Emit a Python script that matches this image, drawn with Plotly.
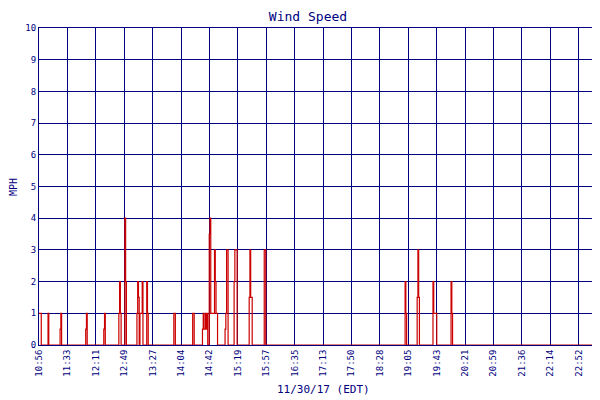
import plotly.graph_objects as go

# minutes after 10:56 and wind speed (MPH), step series
minutes = [0, 1, 3, 12, 13, 14, 28, 29, 30, 62, 63, 64, 86, 87, 88,
           106, 107, 108, 109, 114, 115, 116, 130, 131, 132, 133, 134, 137, 138, 139,
           143, 144, 145, 179, 181, 204, 206, 217, 218, 219, 220, 221, 222, 223, 224,
           226, 227, 228, 232, 233, 234, 235, 237, 247, 248, 249, 251, 259, 260, 262, 263,
           279, 280, 281, 283, 299, 301, 486, 487, 488, 489, 502, 503, 504, 505,
           523, 524, 525, 528, 547, 548, 549, 754]
speed = [1, 1, 0, 1, 0, 0, 0.5, 1, 0, 0.5, 1, 0, 0.5, 1, 0,
         1, 2, 1, 0, 4, 2, 0, 1, 2, 1.5, 0, 1, 2, 0, 0,
         2, 1, 0, 1, 0, 1, 0, 0.5, 1, 0.5, 0.5, 1, 0.5, 1, 0,
         3.5, 4, 1, 1, 3, 2, 1, 0, 0.5, 1, 3, 0, 2, 3, 3, 0,
         1.5, 3, 1.5, 0, 3, 0, 2, 1, 0, 0, 1.5, 3, 1.5, 0,
         2, 1, 1, 0, 2, 1, 0, 0]

tick_labels = ["10:56", "11:33", "12:11", "12:49", "13:27", "14:04", "14:42", "15:19",
               "15:57", "16:35", "17:13", "17:50", "18:28", "19:05", "19:43", "20:21",
               "20:59", "21:36", "22:14", "22:52", "23:30"]
tick_vals = [i * 754 / 20 for i in range(21)]

navy = "#000080"
fig = go.Figure()
fig.add_trace(go.Scatter(x=minutes, y=speed, mode="lines", line=dict(color="#cc0000", width=1.2, shape="hv"),
                         name="Wind Speed"))

fig.update_layout(
    width=600, height=400, margin=dict(l=31, r=1, t=20, b=63, autoexpand=False),
    paper_bgcolor="white", plot_bgcolor="white",
    font=dict(family="DejaVu Sans Mono", color=navy, size=9),
    title=dict(text="Wind Speed", x=0.5, y=0.99, xanchor="center", yanchor="top", font=dict(size=13, color=navy)),
    showlegend=True,
    legend=dict(orientation="h", x=0.47, xanchor="center", y=-0.155, yanchor="top", font=dict(size=8, color=navy)),
    annotations=[
        dict(text="11/30/17 (EDT)", x=0.5, y=-0.115, xref="paper", yref="paper", xanchor="center",
             yanchor="top", showarrow=False, font=dict(size=11, color=navy)),
        dict(text="MPH", x=-0.045, y=0.5, xref="paper", yref="paper", textangle=-90, xanchor="center",
             yanchor="middle", showarrow=False, font=dict(size=10, color=navy)),
    ],
)
fig.update_xaxes(range=[0, 754], tickvals=tick_vals, ticktext=tick_labels, tickangle=-90, automargin=False,
                 showgrid=True, gridcolor=navy, gridwidth=1, showline=True, linecolor=navy, mirror=True,
                 zeroline=False, tickfont=dict(size=9, color=navy))
fig.update_yaxes(range=[0, 10], dtick=1, showgrid=True, gridcolor=navy, gridwidth=1, automargin=False,
                 showline=True, linecolor=navy, mirror=True, zeroline=False,
                 tickfont=dict(size=9, color=navy))

fig.write_html("out.html")
